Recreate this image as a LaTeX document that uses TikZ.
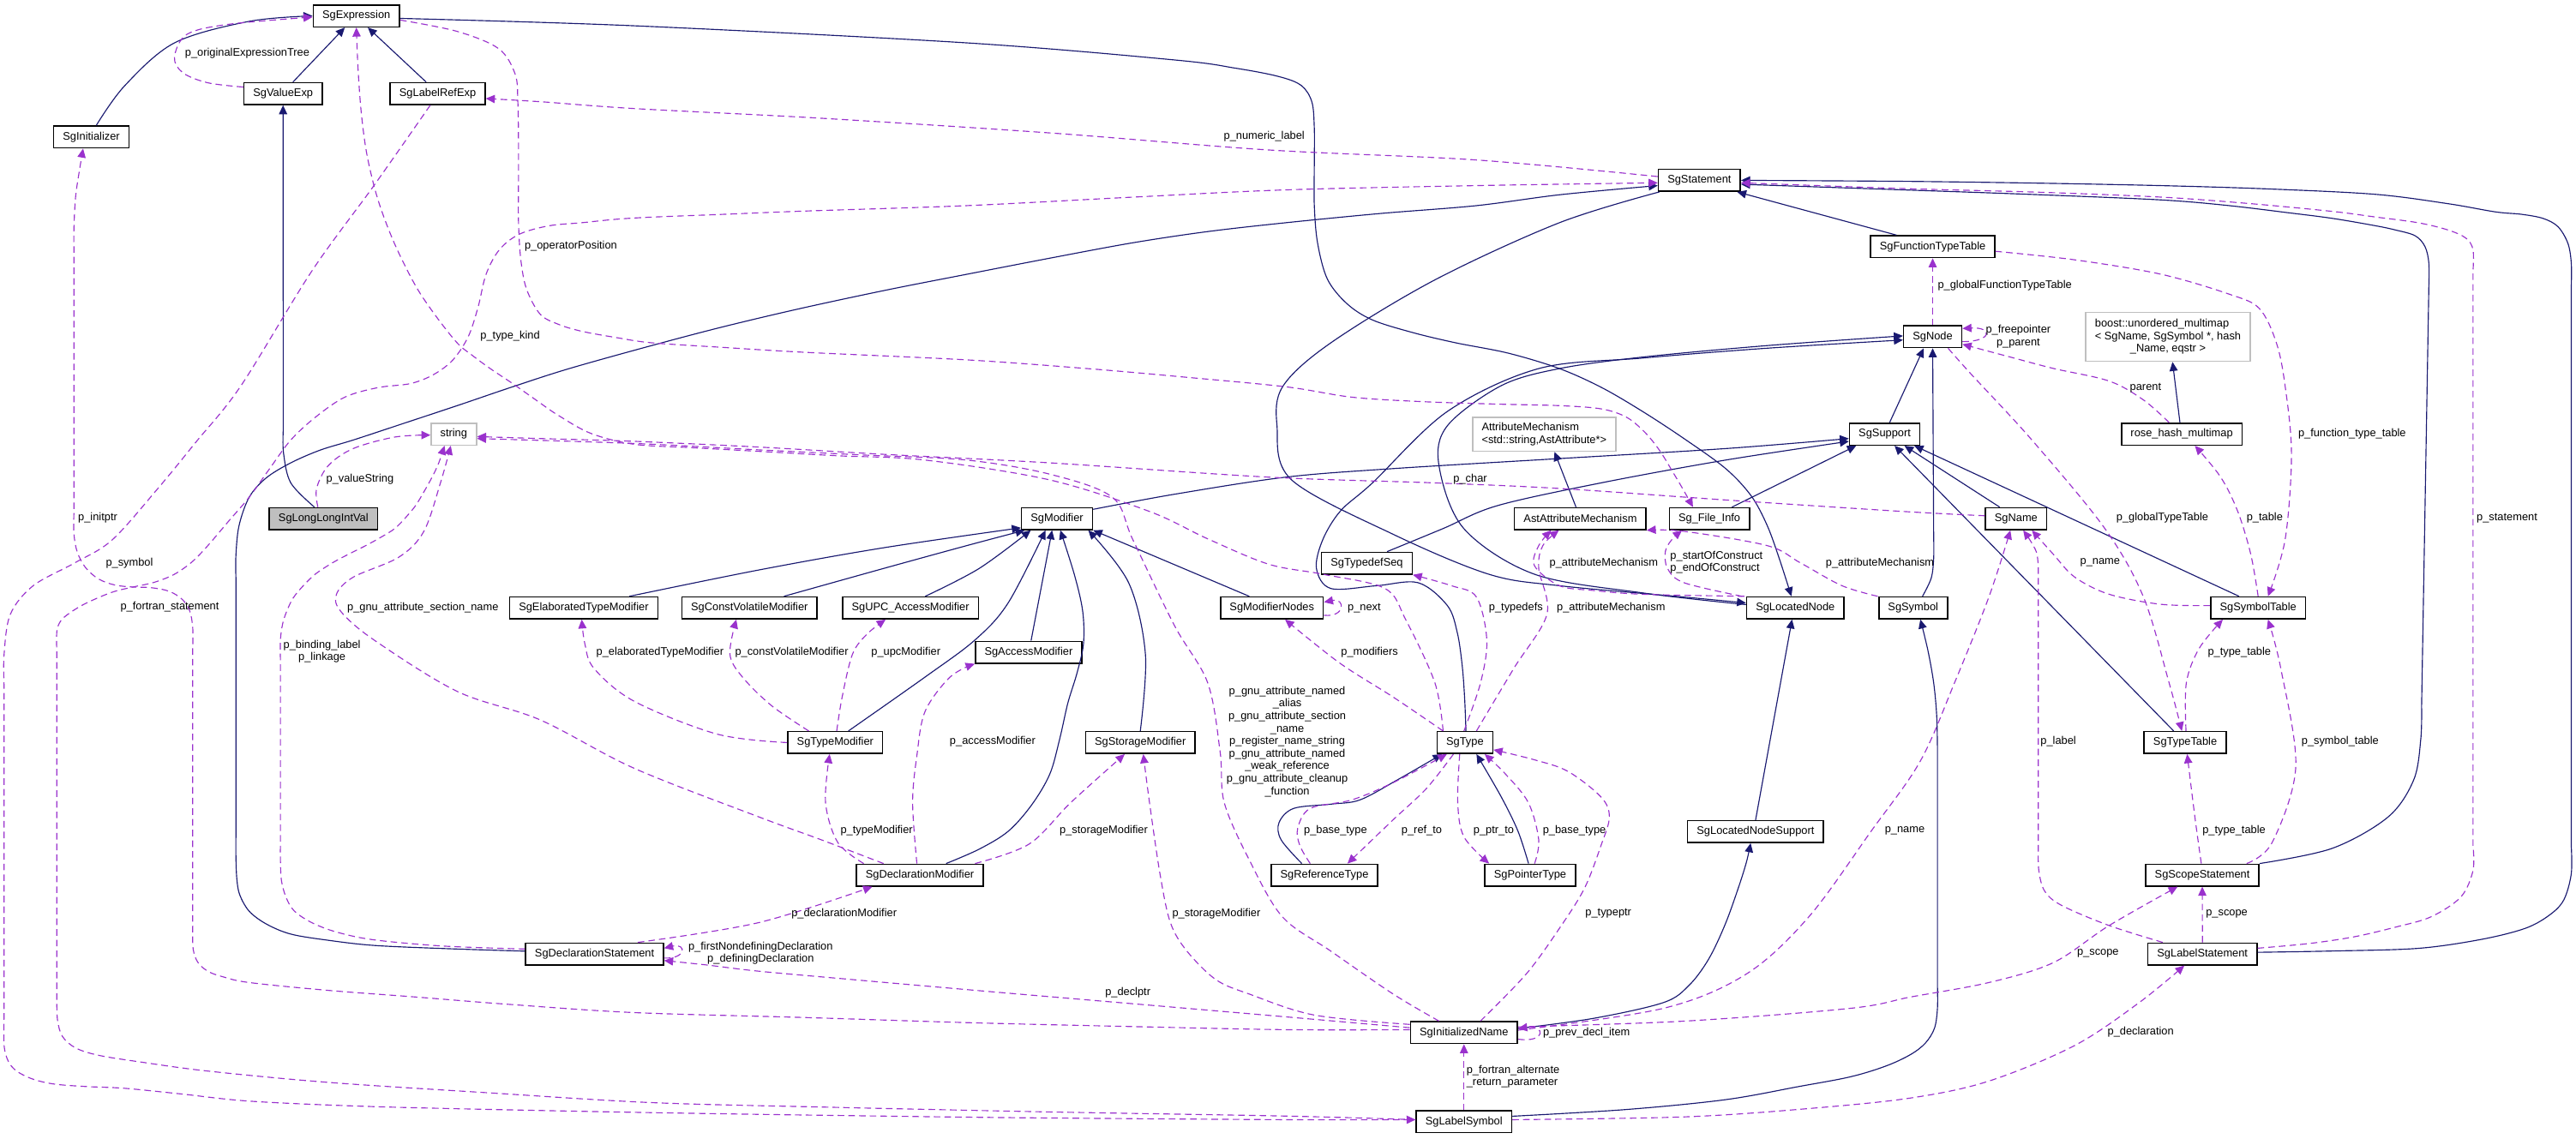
\documentclass[tikz,border=0pt]{standalone}
\usepackage{fontspec}
\setmainfont{Liberation Sans}
\usetikzlibrary{arrows.meta}
\definecolor{inhblue}{RGB}{25,25,112}
\definecolor{usepurple}{RGB}{154,50,205}
\definecolor{boxgray}{RGB}{191,191,191}
\begin{document}
\begin{tikzpicture}[x=1pt,y=-1pt,
  cls/.style={draw,line width=0.8pt,fill=white,inner xsep=5.6pt,inner ysep=3.4pt,minimum height=13.3pt,font=\fontsize{6.7}{7.65}\selectfont},
  ext/.style={cls,draw=boxgray},
  inh/.style={inhblue,line width=0.6pt,-{Triangle[length=5.5pt,width=5pt]}},
  usage/.style={usepurple,line width=0.6pt,dash pattern=on 4pt off 2.5pt,-{Triangle[length=5.5pt,width=5pt]}},
  lbl/.style={inner sep=0pt,font=\fontsize{6.7}{7.65}\selectfont,align=center},
  curvy/.style={smooth,tension=0.55}]
\useasboundingbox (0,0) rectangle (1568,693);
% classes
\node[cls] (expr) at (216.9,9.7) {SgExpression};
\node[cls] (valexp) at (172.3,57.0) {SgValueExp};
\node[cls] (lblref) at (266.4,57.0) {SgLabelRefExp};
\node[cls] (sginit) at (55.6,83.4) {SgInitializer};
\node[cls,fill=boxgray] (llint) at (196.9,315.8) {SgLongLongIntVal};
\node[ext] (str) at (276.2,264.3) {string};
\node[cls] (elab) at (355.3,370.1) {SgElaboratedTypeModifier};
\node[cls] (modif) at (643.4,315.8) {SgModifier};
\node[cls] (cvmod) at (456.2,370.1) {SgConstVolatileModifier};
\node[cls] (upcmod) at (554.2,370.1) {SgUPC\_AccessModifier};
\node[cls] (accmod) at (626.1,397.1) {SgAccessModifier};
\node[cls] (typemod) at (508.4,452.1) {SgTypeModifier};
\node[cls] (stormod) at (694.1,452.1) {SgStorageModifier};
\node[cls] (modnodes) at (774.2,370.1) {SgModifierNodes};
\node[cls] (tdseq) at (832.0,342.9) {SgTypedefSeq};
\node[ext,align=left] (attrmech) at (939.9,264.4) {AttributeMechanism\\<std::string,AstAttribute*>};
\node[cls] (astattr) at (961.9,315.8) {AstAttributeMechanism};
\node[cls] (fileinfo) at (1040.5,315.8) {Sg\_File\_Info};
\node[cls] (support) at (1147.2,264.3) {SgSupport};
\node[cls] (locnode) at (1092.8,370.1) {SgLocatedNode};
\node[cls] (symbol) at (1164.5,370.1) {SgSymbol};
\node[cls] (sgname) at (1227.2,315.8) {SgName};
\node[cls] (symtab) at (1374.5,370.1) {SgSymbolTable};
\node[cls] (rosehash) at (1328.0,264.3) {rose\_hash\_multimap};
\node[ext] (boost) at (1319.6,205.1) {\begin{tabular}{@{}l@{}}boost::unordered\_multimap\\< SgName, SgSymbol *, hash\\\multicolumn{1}{@{}c@{}}{\_Name, eqstr >}\end{tabular}};
\node[cls] (sgnode) at (1176.4,205.0) {SgNode};
\node[cls] (functab) at (1176.4,150.2) {SgFunctionTypeTable};
\node[cls] (stmt) at (1034.4,109.8) {SgStatement};
\node[cls] (typetab) at (1330.1,452.1) {SgTypeTable};
\node[cls] (scopestmt) at (1340.5,532.8) {SgScopeStatement};
\node[cls] (lblstmt) at (1340.6,580.8) {SgLabelStatement};
\node[cls] (sgtype) at (891.7,452.1) {SgType};
\node[cls] (reftype) at (806.2,532.8) {SgReferenceType};
\node[cls] (ptrtype) at (931.4,532.8) {SgPointerType};
\node[cls] (lnsupport) at (1068.6,506.3) {SgLocatedNodeSupport};
\node[cls] (initname) at (891.1,628.7) {SgInitializedName};
\node[cls] (lblsym) at (891.1,683.0) {SgLabelSymbol};
\node[cls] (declmod) at (559.9,532.8) {SgDeclarationModifier};
\node[cls] (declstmt) at (361.9,580.8) {SgDeclarationStatement};
% inheritance
\draw[inh] ([xshift=6pt]valexp.north) -- ([xshift=-7pt]expr.south);
\draw[inh] ([xshift=-7pt]lblref.north) -- ([xshift=7pt]expr.south);
\draw[inh] plot[curvy] coordinates {([xshift=3pt]sginit.north) (75.9,52.2) (106.2,26.1) (151.7,13) (expr.west)};
\draw[inh] plot[curvy] coordinates {([xshift=-5.5pt]llint.north) (177,294) (172.6,276) (172.4,262)} -- (valexp.south);
\draw[inh] plot[curvy] coordinates {([yshift=-1.5pt]expr.east) (386.1,15.7) (588.4,26.1) (714.9,36.5) (752,41.5) (778,46.5) (792,52) (798.5,62) (800,78) (800,100) (800,125) (802,148) (808,170) (820,185) (835.4,194.8) (860,202.5) (886,208.7) (918,215) (949.2,224.4) (975,236) (999.8,250.5) (1025,267) (1050.4,285.3) (1066,302) (1075.7,320) (1083,340) ([xshift=-2.4pt]locnode.north)};
\draw[inh] plot[curvy] coordinates {([xshift=1pt]stmt.south west) (949.2,135.6) (873.4,170.4) (810.1,208.7) (781,235) (777.3,259.2) (786,292) (848,325.3) (906.2,349.6) (949.2,356.6) (1025.1,363.5) ([yshift=3pt]locnode.west)};
\draw[inh] plot[curvy] coordinates {([yshift=1.7pt]declstmt.west) (270,577.5) (227.6,575.6) (200,572.5) (177,568.7) (162,562.5) (151.7,554.8) (146,545) (144.2,535.6) (143.6,522) (143.6,508)}
  -- plot[curvy] coordinates {(143.6,352) (143.6,338) (145.5,320) (151.7,302.7) (162,291) (177,281.8) (195,274) (215,267.9) (245,258) (278.2,247) (312,235.5) (346.5,224.4) (396.6,210.4) (440,199) (487.3,187.8) (540,176.5) (588.4,167) (640,157) (689.6,147.8) (735,141) (782.7,135.6) (840,130) (898.7,125.2) (950,118.5) ([yshift=-3.2pt]stmt.west)};
\draw[inh] ([xshift=-22pt]functab.north) -- ([xshift=23pt]stmt.south);
\draw[inh] plot[curvy] coordinates {(scopestmt.north east) (1419.6,516.5) (1453.6,497.4) (1469.2,474.8) (1473.5,450) (1474,430)}
  -- plot[curvy] coordinates {(1478.4,175) (1478.4,160) (1476,150) (1470,143.5) (1458,140) (1445.7,137.4) (1420,133) (1393.5,129.6) (1355,125) (1315.1,121.7) (1240,118.5) (1158.4,115.6) ([yshift=-2.4pt]stmt.east)};
\draw[inh] plot[curvy] coordinates {([yshift=1pt]lblstmt.east) (1420,579) (1471.8,577.4) (1510,572) (1537.1,565.2) (1552,557) (1560.6,547.8) (1565.1,532) (1565.1,515)}
  -- plot[curvy] coordinates {(1565.1,175) (1565.1,160) (1563,148) (1557,138) (1548,133) (1535,130.5) (1518.9,129) (1490,124) (1445.7,118.3) (1380,115) (1315.1,113) (1240,111.5) (1158.4,110.4) (stmt.east)};
\draw[inh] (lnsupport.north) -- ([xshift=-2pt]locnode.south);
\draw[inh] plot[curvy] coordinates {([yshift=2.5pt]initname.east) (970,620) (1012.5,610.4) (1028,600) (1040,584) (1050,563) (1058,540.9) (1063,525) ([xshift=-3pt]lnsupport.south)};
\draw[inh] plot[curvy] coordinates {([yshift=3.4pt]lblsym.east) (990,675.5) (1050.4,669.5) (1095,661.5) (1126.3,655.6) (1148,649) (1163,642) (1172,635) (1177.5,626) (1179.3,614) (1179.3,600)}
  -- plot[curvy] coordinates {(1179.3,470) (1179.3,455) (1178.8,435) (1177,415.7) (1173.5,396) ([xshift=4.4pt]symbol.south)};
\draw[inh] plot[curvy] coordinates {([xshift=5.7pt]symbol.north) (1175.5,352) (1177,340) (1177,326)} -- (sgnode.south);
\draw[inh] ([xshift=3pt]support.north) -- ([xshift=-5.5pt]sgnode.south);
\draw[inh] plot[curvy] coordinates {([yshift=2pt]locnode.west) (1000,361) (934,349.6) (891,321.8) (875.9,283.5) (881,259.2) (913.8,234.8) (949.2,224.4) (999.8,217.4) (1075.7,210.4) ([yshift=0.5pt]sgnode.west)};
\draw[inh] plot[curvy] coordinates {([xshift=0.6pt]sgtype.north) (891.5,425) (890,405) (887,385) (881,368.7) (863.3,354.8) (838,356.6) (810.1,358.3) (801.3,346.1) (805.1,328.7) (816,311) (835.4,294) (881,250.5) (936.6,224.4) (999.8,218) (1075.7,212) ([yshift=-2pt]sgnode.west)};
\draw[inh] plot[curvy] coordinates {([xshift=12.3pt]tdseq.north) (878.4,321.8) (911.3,307.9) (974.5,294) (1050.4,280.1) ([yshift=-4.4pt]support.west)};
\draw[inh] plot[curvy] coordinates {([yshift=5.7pt]modif.east) (714.9,300.9) (782.7,290.5) (848,285.3) (949.2,279.2) (1050.4,273.1) ([yshift=-2.7pt]support.west)};
\draw[inh] ([xshift=13.7pt]fileinfo.north) -- ([xshift=4.5pt]support.south west);
\draw[inh] ([xshift=-10pt]sgname.north) -- ([xshift=12pt]support.south);
\draw[inh] ([xshift=-11.6pt]symtab.north) -- ([xshift=18pt]support.south);
\draw[inh] ([xshift=-7pt]typetab.north) -- ([xshift=6pt]support.south);
\draw[inh] ([xshift=-1.1pt]rosehash.north) -- ([xshift=2.8pt]boost.south);
\draw[inh] ([xshift=-2.6pt]astattr.north) -- ([xshift=6.3pt]attrmech.south);
\draw[inh] plot[curvy] coordinates {([xshift=27.8pt]elab.north) (462,347) (537.8,333.5) ([yshift=1.5pt]modif.south west)};
\draw[inh] plot[curvy] coordinates {([xshift=21pt]cvmod.north) (537.8,346.1) (588.4,332.2) ([xshift=2.3pt]modif.south west)};
\draw[inh] plot[curvy] coordinates {([xshift=9pt]upcmod.north) (596,346.1) ([xshift=-16pt]modif.south)};
\draw[inh] plot[curvy] coordinates {([xshift=8pt]typemod.north) (563.1,412.2) (593.5,389.6) (613.7,367) ([xshift=-7pt]modif.south)};
\draw[inh] ([xshift=1.5pt]accmod.north) -- ([xshift=-3pt]modif.south);
\draw[inh] plot[curvy] coordinates {([xshift=16pt]declmod.north) (596,517) (613.7,506.1) (628,490) (639,471.3) (645,450) (650,428) (655.5,410) (659.5,392) (659,372) (654,350) ([xshift=2pt]modif.south)};
\draw[inh] plot[curvy] coordinates {(stormod.north) (697.2,398.3) (687,354.8) ([xshift=-3pt]modif.south east)};
\draw[inh] ([xshift=-13.8pt]modnodes.north) -- (modif.south east);
\draw[inh] plot[curvy] coordinates {([xshift=-1pt]ptrtype.north) (924,506.1) (913.8,485.2) ([xshift=7pt]sgtype.south)};
\draw[inh] plot[curvy] coordinates {([xshift=-13.8pt]reftype.north) (779.8,511.3) (778.5,500.9) (787.4,492.2) (810.1,489.6) (827.8,487) (850.6,474.8) ([xshift=-14pt]sgtype.south)};
% members
\draw[usage] plot[curvy] coordinates {([yshift=4pt]valexp.west) (126.5,50.4) (111.3,44.3) (106.2,34.8) (113.8,20.9) (139.1,14.8) ([yshift=-0.7pt]expr.west)};
\draw[usage] plot[curvy] coordinates {([yshift=-2.5pt]expr.east) (278.2,19.1) (303.5,29.6) (313.6,45.2) (315.2,62) (315.6,85) (315.6,110) (315.6,135) (317,158) (320.5,176) (328.8,191.3) (340,197.5) (354.1,201.7) (375,205.5) (396.6,208.7) (440,211.5) (490,214.5) (588.4,219.1) (661.8,224.4) (720,229.5) (782.7,235.5) (822.8,241.8) (865,244.5) (910,246) (950,247) (975,249) (990,254) (1001,263) (1010,274) (1018,287) (1024.5,298) ([xshift=-10pt]fileinfo.north)};
\draw[usage] plot[curvy] coordinates {([yshift=2.3pt]stmt.west) (898.7,97.4) (772.2,91.3) (640,81) (500,72) (386.1,66.1) (330,62) ([yshift=-3pt]lblref.east)};
\draw[usage] plot[curvy] coordinates {([xshift=-3.4pt]llint.north) (192.7,297.4) (199.8,283.5) (215,273.1) (240.3,266.1) ([yshift=-0.6pt]str.west)};
\draw[usage] plot[curvy] coordinates {([yshift=1.8pt]initname.west) (782.7,626.9) (680,624.8) (588.4,622.6) (490,619.5) (386.1,616.5) (310,611.5) (252.9,607) (200,603) (151.7,598.2) (135,594.5) (126.5,591.3) (120.5,586) (117.6,578) (117.3,565) (117.3,552)}
  -- plot[curvy] coordinates {(117.3,395) (117.3,382) (115.5,372) (111,365) (103,360) (92,357.8) (81,357.4) (70,356.2) (60,352.5) (52,345.5) (47,336) (45,325) (45,312)}
  -- plot[curvy] coordinates {(45,152) (45,139) (46,120) (48.3,104) ([xshift=-5pt]sginit.south)};
\draw[usage] plot[curvy] coordinates {([xshift=-4.5pt]lblref.south) (227.6,113) (189.7,165.2) (146.7,234.8) (118.9,269.6) (96.1,297.4) (68.3,328.7) (45.5,342.7) (20.2,356.6) (6.3,374) (2.5,398.3) (2.5,418)}
  -- plot[curvy] coordinates {(2.5,618) (2.5,636.5) (5,646) (10.1,652.1) (20,657) (32.9,660) (52,661.5) (75.9,662.6) (110,666) (151.7,670.4) (220,673.5) (300,675.5) (396.6,677.4) (500,679) (620,680.5) (782.7,681.7) ([yshift=1.3pt]lblsym.west)};
\draw[usage] plot[curvy] coordinates {([yshift=1.3pt]lblsym.west) (782.7,679.5) (640,677) (500,674) (396.6,671.3) (300,665.5) (200,659) (126.5,652.1) (85,646.5) (60,642.5) (46,638) (38,631) (35,621) (34.6,608)}
  -- plot[curvy] coordinates {(34.6,398) (34.6,384.4) (37,378) (42,373.5) (50,368.5) (60.7,363.5) (70,360) (80.9,357.4) (94,354.5) (106.2,349.6) (117,342) (126.5,332.2) (139,317.5) (151.7,302.7) (164,285.5) (177,267.9) (192,254) (209.9,241.8) (230,236) (250,233.5) (264,228) (275.7,219.1) (285,205) (291,187) (295.9,166.9) (304,152) (316.1,142.6) (334,137.5) (354.1,135.6) (375,133.5) (396.6,132.2) (440,130.5) (490,128.5) (588.4,125.2) (690,120) (782.7,115.6) (898.7,113) ([yshift=-1.5pt]stmt.west)};
\draw[usage] plot[curvy] coordinates {([xshift=-13.3pt]sgtype.north) (873.4,415.7) (855.7,377.4) (843,358.3) (805.1,349.6) (772.2,343.5) (735,328) (699.7,311.4) (639,292.2) (563.1,280.1) (510,277.5) (462,274.8) (420,272.5) (386.1,270.5) (360,264) (340,253) (326.2,243.5) (312,233.5) (298.4,224.4) (287,216) (278.2,208.7) (265,192) (252.9,173.9) (240,148) (230.1,121.7) (223.5,95) (220,69.6) (218,43) (expr.south)};
\draw[usage] plot[curvy] coordinates {([yshift=3.5pt]lblstmt.east) (1405,574.5) (1432.7,570.4) (1458,564.5) (1479.7,558.2) (1497.9,546.1) (1505.3,530) (1505.3,515)}
  -- plot[curvy] coordinates {(1505.3,165) (1505.3,152) (1501,145) (1490,140) (1471.8,135.6) (1445,132) (1419.6,128.7) (1370,124) (1315.1,120) (1240,117) (1158.4,114.8) ([yshift=-1.5pt]stmt.east)};
\draw[usage] (sgnode.north) -- (functab.south);
\draw[usage] ([yshift=-3pt]sgnode.east) .. controls (1213,208) and (1213,199) .. ([yshift=5pt]sgnode.east);
\draw[usage] plot[curvy] coordinates {([xshift=-7.7pt]rosehash.north) (1304.7,243.5) (1283.8,232) (1249.8,224.3) (1223.7,217.4) ([yshift=-4.6pt]sgnode.east)};
\draw[usage] plot[curvy] coordinates {([yshift=-2.8pt]functab.east) (1262.9,158.2) (1315.1,166.9) (1356.9,179.1) (1375.2,187.8) (1385.6,208.7) (1390.9,234.8) (1394.8,276.6) (1390.9,328.7) ([xshift=6pt]symtab.north)};
\draw[usage] plot[curvy] coordinates {(symtab.north) (1370,337.4) (1362.1,311.4) (1351.7,290.5) ([xshift=8pt]rosehash.south)};
\draw[usage] plot[curvy] coordinates {([yshift=1.4pt]symtab.west) (1315.1,367.9) (1283.8,361.8) (1262.9,351.4) (1249.8,337.4) ([xshift=9.6pt]sgname.south)};
\draw[usage] plot[curvy] coordinates {([xshift=9.4pt]sgnode.south) (1200,228) (1236.8,267.9) (1281.2,321.8) (1304.7,363.5) (1320.3,415.7) ([xshift=-2pt]typetab.north)};
\draw[usage] plot[curvy] coordinates {([xshift=0.5pt]typetab.north) (1330.8,415.7) (1338.6,394.8) ([xshift=-21.5pt]symtab.south)};
\draw[usage] plot[curvy] coordinates {([xshift=-0.6pt]scopestmt.north) (1336,497.4) ([xshift=1.2pt]typetab.south)};
\draw[usage] plot[curvy] coordinates {([xshift=27pt]scopestmt.north) (1383,513) (1397.4,467) (1388.3,407) ([xshift=6pt]symtab.south)};
\draw[usage] (lblstmt.north) -- (scopestmt.south);
\draw[usage] plot[curvy] coordinates {([yshift=3.5pt]initname.east) (1025.1,621.7) (1126.3,613.9) (1163,607) (1210.6,598.2) (1249.8,586.1) (1283.8,563.5) ([xshift=-15pt]scopestmt.south)};
\draw[usage] plot[curvy] coordinates {([xshift=-24.2pt]lblstmt.north) (1283.8,563.5) (1255,551.3) (1244.6,542.6) (1241,530) (1240.7,516)}
  -- plot[curvy] coordinates {(1240.7,350) (1239.5,336) ([xshift=4.3pt]sgname.south)};
\draw[usage] plot[curvy] coordinates {([yshift=1.5pt]initname.east) (1012.5,613.9) (1063,593) (1101,558.2) (1138.9,506.1) (1168.8,463.5) (1189.7,415.7) (1210.6,363.5) ([xshift=-3.5pt]sgname.south)};
\draw[usage] plot[curvy] coordinates {([yshift=1.3pt]lblsym.east) (1025.1,680) (1100,675) (1163,668.5) (1210.6,658.2) (1262.9,636.5) (1302.1,610.4) ([xshift=-11pt]lblstmt.south)};
\draw[usage] (lblsym.north) -- (initname.south);
\draw[usage] ([yshift=-4pt]initname.east) .. controls (941,635) and (941,624) .. ([yshift=2.6pt]initname.east);
\draw[usage] plot[curvy] coordinates {([xshift=10pt]initname.north) (929,593) (949.2,565.2) (964.4,540.9) (974.5,514.8) (979.6,497.4) (974.5,485.2) (954.3,469.6) (934,462.6) ([yshift=-4.4pt]sgtype.east)};
\draw[usage] plot[curvy] coordinates {([xshift=2.7pt]ptrtype.north) (936.6,511.3) (930.3,488.7) (916.4,471.3) ([xshift=12pt]sgtype.south)};
\draw[usage] plot[curvy] coordinates {([xshift=-3.2pt]sgtype.south) (887.3,488.7) (891.1,509.5) ([xshift=3pt]ptrtype.north west)};
\draw[usage] plot[curvy] coordinates {([xshift=-7pt]sgtype.south) (868.3,480) (848,499.1) ([xshift=14pt]reftype.north)};
\draw[usage] plot[curvy] coordinates {([xshift=-8.7pt]reftype.north) (791.2,514.8) (789.9,504.3) (797.5,492.2) (822.8,487) (848,476.5) ([xshift=-11pt]sgtype.south)};
\draw[usage] plot[curvy] coordinates {([xshift=-13.3pt]sgtype.north) (848,424.4) (815.2,403.5) ([xshift=8pt]modnodes.south)};
\draw[usage] ([yshift=-4.5pt]modnodes.east) .. controls (819,376) and (819,364) .. ([yshift=3.5pt]modnodes.east);
\draw[usage] plot[curvy] coordinates {([xshift=-0.6pt]sgtype.north) (901.2,415.7) (905,389.6) (898.7,363.5) (883.5,356.6) (tdseq.south east)};
\draw[usage] plot[curvy] coordinates {([xshift=7pt]sgtype.north) (921.4,407) (941.6,374) (936.6,346.1) (939.1,332.2) ([xshift=-13pt]astattr.south)};
\draw[usage] plot[curvy] coordinates {([xshift=-1pt]locnode.north west) (999.8,361.8) (970,359.5) (949.2,356.6) (934,344.4) (936.6,332.2) ([xshift=-17.7pt]astattr.south)};
\draw[usage] plot[curvy] coordinates {([xshift=-0.3pt]symbol.north west) (1121.2,356.6) (1095.9,342.7) (1075.7,332.2) (1025.1,323.5) (astattr.south east)};
\draw[usage] plot[curvy] coordinates {([xshift=-2.4pt]locnode.north west) (1025.1,354.8) (1015,346.1) (1013.7,335.7) (1017.5,328.7) ([xshift=-16.7pt]fileinfo.south)};
\draw[usage] plot[curvy] coordinates {([yshift=1.8pt]sgname.west) (1158.4,311.4) (1050.4,304.4) (949.2,297.4) (873.4,294) (772.2,290.5) (639,281.8) (537.8,276.6) (462,272.2) (386.1,268.7) (328.8,267) ([yshift=-1.5pt]str.east)};
\draw[usage] plot[curvy] coordinates {([xshift=-15.2pt]initname.north) (848,605.2) (810.1,579.1) (780.6,558.2) (760.4,523.5) (745.2,488.7) (742.7,458) (735.1,415.7) (714.9,380.9) (689.6,328.7) (677,302.7) (639,288.7) (588.4,280.1) (525,277) (462,273.9) (386.1,270) ([yshift=-2.7pt]str.east)};
\draw[usage] plot[curvy] coordinates {([xshift=-22.1pt]declmod.north) (499.9,511.3) (462,497.4) (386.1,467.8) (328.8,438.3) (278.2,420.9) (227.6,389.6) (207.4,372.2) (204.8,361.8) (215,351.4) (242.8,339.2) (258,323.5) (268.1,294) ([xshift=-1.8pt]str.south)};
\draw[usage] plot[curvy] coordinates {([yshift=3pt]declstmt.west) (270,576) (227.6,572.2) (205,567.5) (189.7,561.7) (179,554.5) (174,546) (171.3,536) (170.7,524) (170.7,512)}
  -- plot[curvy] coordinates {(170.7,402) (170.7,389.6) (172,380) (174.5,372.2) (178.5,364) (184.6,356.6) (192,349.5) (202.3,342.7) (212,337.5) (222.6,332.2) (232,327) (240.3,321.8) (247,315) (252.9,307.9) (258,299.5) (263,290.5) (267,282) ([xshift=-5.6pt]str.south)};
\draw[usage] plot[curvy] coordinates {([yshift=3pt]initname.west) (782.7,619.1) (700,612) (600,603.5) (520,596.5) (461.9,591.3) (430,587.5) ([yshift=-4pt]declstmt.east)};
\draw[usage] plot[curvy] coordinates {([yshift=5pt]initname.west) (800,618) (760.4,605.2) (740.2,596.5) (722.5,579.1) (712.4,561.7) (706.1,532.2) (699.7,488.7) ([xshift=1.8pt]stormod.south)};
\draw[usage] plot[curvy] coordinates {([xshift=33.6pt]declmod.north) (626.4,513.9) (651.7,488.7) ([xshift=-9.5pt]stormod.south)};
\draw[usage] plot[curvy] coordinates {([xshift=-1.8pt]declmod.north) (555.5,488.7) (558.1,460) (563.1,433.1) (578.3,412.2) (accmod.south west)};
\draw[usage] plot[curvy] coordinates {([xshift=4.8pt]declmod.north west) (510,513) (502.5,488.7) ([xshift=-3.4pt]typemod.south)};
\draw[usage] plot[curvy] coordinates {([xshift=-16pt]declstmt.north east) (461.9,561.7) ([xshift=10pt]declmod.south west)};
\draw[usage] ([yshift=-2.5pt]declstmt.east) .. controls (418,584) and (418,574) .. ([yshift=3.5pt]declstmt.east);
\draw[usage] plot[curvy] coordinates {(typemod.west) (436.7,447) (386.1,427) (361.6,407) (356,392) ([xshift=-1.2pt]elab.south)};
\draw[usage] plot[curvy] coordinates {([xshift=-16.1pt]typemod.north) (469.6,429.6) (451.9,412.2) (444.3,398.3) ([xshift=-8pt]cvmod.south)};
\draw[usage] plot[curvy] coordinates {([xshift=0.9pt]typemod.north) (512.6,424.4) (518.9,398.3) (527.7,386.1) ([xshift=-15.1pt]upcmod.south)};
% member labels
\node[lbl] (lOrigTree) at (150.5,32.7) {p\_originalExpressionTree};
\node[lbl] (lOpPos) at (347.5,149.6) {p\_operatorPosition};
\node[lbl] (lNumLabel) at (769.5,83.1) {p\_numeric\_label};
\node[lbl] (lTypeKind) at (310.5,204.8) {p\_type\_kind};
\node[lbl] (lValueStr) at (219.1,291.7) {p\_valueString};
\node[lbl] (lInitptr) at (59.5,315.4) {p\_initptr};
\node[lbl] (lSymbol) at (78.8,342.7) {p\_symbol};
\node[lbl] (lFortStmt) at (103.3,369.6) {p\_fortran\_statement};
\node[lbl] (lSectName) at (257.4,369.8) {p\_gnu\_attribute\_section\_name};
\node[lbl] (lBinding) at (196,396.6) {p\_binding\_label\\p\_linkage};
\node[lbl] (lElab) at (401.7,397.1) {p\_elaboratedTypeModifier};
\node[lbl] (lConstVol) at (481.9,397.1) {p\_constVolatileModifier};
\node[lbl] (lUpc) at (551.4,397.1) {p\_upcModifier};
\node[lbl] (lAccess) at (604.2,451.7) {p\_accessModifier};
\node[lbl] (lTypeMod) at (533.6,505.8) {p\_typeModifier};
\node[lbl] (lStorMod) at (671.8,505.8) {p\_storageModifier};
\node[lbl] (lStorMod2) at (740.4,556.2) {p\_storageModifier};
\node[lbl] (lDeclMod) at (513.8,556.2) {p\_declarationModifier};
\node[lbl] (lFirstDecl) at (463,580.4) {p\_firstNondefiningDeclaration\\p\_definingDeclaration};
\node[lbl] (lDeclptr) at (686.5,604.3) {p\_declptr};
\node[lbl] (lGnu) at (783.5,451.5) {p\_gnu\_attribute\_named\\\_alias\\p\_gnu\_attribute\_section\\\_name\\p\_register\_name\_string\\p\_gnu\_attribute\_named\\\_weak\_reference\\p\_gnu\_attribute\_cleanup\\\_function};
\node[lbl] (lModifiers) at (833.6,397.1) {p\_modifiers};
\node[lbl] (lNext) at (830.4,370.1) {p\_next};
\node[lbl] (lTypedefs) at (922.7,370.1) {p\_typedefs};
\node[lbl] (lAttr1) at (980.6,370.1) {p\_attributeMechanism};
\node[lbl] (lAttr2) at (976.2,342.7) {p\_attributeMechanism};
\node[lbl] (lAttr3) at (1144.3,342.7) {p\_attributeMechanism};
\node[lbl,anchor=west,align=left] (lConstruct) at (1016.5,342.4) {p\_startOfConstruct\\p\_endOfConstruct};
\node[lbl] (lChar) at (894.9,291.7) {p\_char};
\node[lbl] (lBaseType1) at (812.9,505.8) {p\_base\_type};
\node[lbl] (lRefTo) at (865.4,505.8) {p\_ref\_to};
\node[lbl] (lPtrTo) at (909.2,505.8) {p\_ptr\_to};
\node[lbl] (lBaseType2) at (958.3,505.8) {p\_base\_type};
\node[lbl] (lTypeptr) at (979,556.2) {p\_typeptr};
\node[lbl] (lPrevDecl) at (965.7,628.7) {p\_prev\_decl\_item};
\node[lbl,anchor=west,align=left] (lFortAlt) at (892.5,655.5) {p\_fortran\_alternate\\\_return\_parameter};
\node[lbl] (lGlobFTT) at (1220.3,173.6) {p\_globalFunctionTypeTable};
\node[lbl] (lFreeptr) at (1228.5,204.8) {p\_freepointer\\p\_parent};
\node[lbl] (lParent) at (1306,236.2) {parent};
\node[lbl] (lFuncTable) at (1431.7,264) {p\_function\_type\_table};
\node[lbl] (lTable) at (1378.5,315.4) {p\_table};
\node[lbl] (lName1) at (1278.3,342.7) {p\_name};
\node[lbl] (lGlobTT) at (1316.2,315.4) {p\_globalTypeTable};
\node[lbl] (lTypeTable1) at (1363.1,397.1) {p\_type\_table};
\node[lbl] (lTypeTable2) at (1359.8,505.8) {p\_type\_table};
\node[lbl] (lSymTable) at (1424.4,451.6) {p\_symbol\_table};
\node[lbl] (lScope1) at (1355.4,556.2) {p\_scope};
\node[lbl] (lScope2) at (1277,580.5) {p\_scope};
\node[lbl] (lLabel) at (1252.9,451.6) {p\_label};
\node[lbl] (lName2) at (1159.4,505.8) {p\_name};
\node[lbl] (lDeclaration) at (1303,628.3) {p\_declaration};
\node[lbl] (lStatement) at (1526,315.4) {p\_statement};
\end{tikzpicture}
\end{document}
